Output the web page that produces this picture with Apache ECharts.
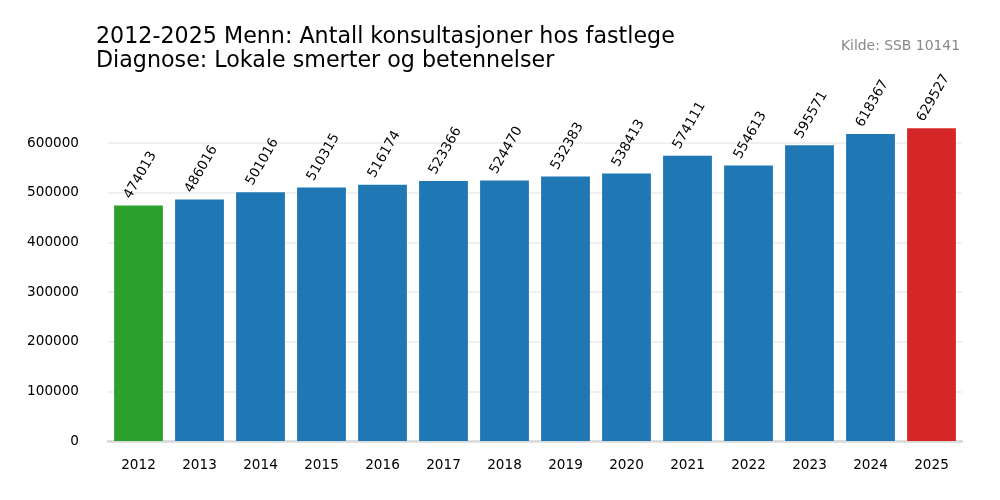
<!DOCTYPE html>
<html>
<head>
<meta charset="utf-8">
<script src="https://cdn.jsdelivr.net/npm/echarts@6/dist/echarts.min.js"></script>
<style>
  html, body { margin: 0; padding: 0; background: #fff; }
  #chart { width: 1000px; height: 500px; }
</style>
</head>
<body>
<div id="chart"></div>
<script>
    var years = ['2012', '2013', '2014', '2015', '2016', '2017', '2018',
        '2019', '2020', '2021', '2022', '2023', '2024', '2025'];
    var consultations = [474013, 486016, 501016, 510315, 516174, 523366, 524470,
        532383, 538413, 574111, 554613, 595571, 618367, 629527];
    var yTicks = [0, 100000, 200000, 300000, 400000, 500000, 600000];

    var firstColor = '#2ca02c';
    var lastColor = '#d62728';
    var barColor = '#1f77b4';

    var chart = echarts.init(document.getElementById('chart'));

    var barData = consultations.map(function (v, i) {
        var c = barColor;
        if (i === 0) c = firstColor;
        if (i === consultations.length - 1) c = lastColor;
        return {value: v, itemStyle: {color: c}};
    });

    var option = {
        backgroundColor: '#fff',
        animation: false,
        textStyle: {fontFamily: 'DejaVu Sans'},
        title: [{
            text: '2012-2025 Menn: Antall konsultasjoner hos fastlege\nDiagnose: Lokale smerter og betennelser',
            left: 96,
            top: 25,
            padding: 0,
            textStyle: {fontSize: 22.2, fontWeight: 'normal', color: '#000', lineHeight: 24, fontFamily: 'DejaVu Sans'}
        }, {
            text: 'Kilde: SSB 10141',
            right: 40,
            top: 39,
            padding: 0,
            textStyle: {fontSize: 13.9, fontWeight: 'normal', color: '#888', fontFamily: 'DejaVu Sans'}
        }],
        grid: {left: 108, right: 38, top: 143, bottom: 59},
        xAxis: {
            type: 'category',
            data: years,
            axisLine: {lineStyle: {color: '#d9d9d9', width: 2.5}},
            axisTick: {show: false},
            axisLabel: {color: '#000', fontSize: 13.6, margin: 17}
        },
        yAxis: {
            type: 'value',
            min: 0,
            max: yTicks[yTicks.length - 1],
            interval: yTicks[1] - yTicks[0],
            axisLine: {show: false},
            axisTick: {show: false},
            axisLabel: {
                color: '#000', fontSize: 13.6, margin: 29,
                formatter: function (v) { return String(v); }
            },
            splitLine: {lineStyle: {color: '#ebebeb', width: 1.5}}
        },
        series: [{
            type: 'bar',
            data: barData,
            barCategoryGap: '20%',
            clip: false,
            label: {
                show: true,
                position: 'top',
                distance: 2,
                offset: [-0.5, -12.5],
                rotate: 60,
                align: 'left',
                verticalAlign: 'middle',
                color: '#000',
                fontSize: 13.6
            }
        }]
    };

    chart.setOption(option);
</script>
</body>
</html>
